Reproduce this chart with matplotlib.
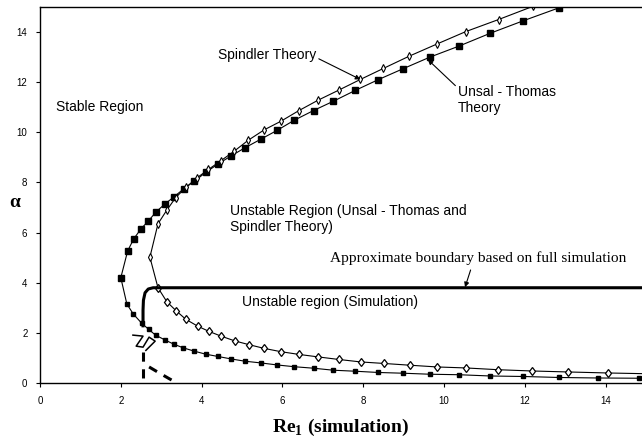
import matplotlib
matplotlib.use('Agg')
from matplotlib import pyplot as plt

# Unsal - Thomas neutral curve (upper and lower branch share Re values)
ut_re_up = [2.0, 2.17, 2.32, 2.5, 2.68, 2.87, 3.09, 3.32, 3.56, 3.82, 4.1, 4.4, 4.73, 5.08,
            5.47, 5.87, 6.29, 6.77, 7.26, 7.8, 8.37, 8.99, 9.65, 10.37, 11.14, 11.96, 12.85]
ut_a_up = [4.2, 5.27, 5.75, 6.15, 6.46, 6.82, 7.14, 7.43, 7.75, 8.05, 8.4, 8.73, 9.06, 9.39,
           9.73, 10.08, 10.48, 10.87, 11.24, 11.67, 12.1, 12.54, 13.0, 13.44, 13.95, 14.45, 14.97]
ut_re_lo = [2.15, 2.31, 2.52, 2.69, 2.86, 3.09, 3.31, 3.55, 3.82, 4.1, 4.4, 4.73, 5.07, 5.47,
            5.87, 6.29, 6.77, 7.26, 7.8, 8.37, 8.99, 9.65, 10.37, 11.14, 11.96, 12.85, 13.8, 14.83]
ut_a_lo = [3.15, 2.75, 2.38, 2.14, 1.91, 1.72, 1.55, 1.4, 1.27, 1.15, 1.06, 0.96, 0.87, 0.8,
           0.72, 0.65, 0.59, 0.51, 0.47, 0.42, 0.39, 0.35, 0.33, 0.28, 0.26, 0.22, 0.2, 0.19]

# Spindler neutral curve
sp_re_up = [2.72, 2.92, 3.14, 3.36, 3.61, 3.88, 4.17, 4.47, 4.8, 5.15, 5.55, 5.96, 6.4, 6.88,
            7.39, 7.93, 8.5, 9.14, 9.82, 10.54, 11.35, 12.19]
sp_a_up = [5.02, 6.35, 6.9, 7.4, 7.8, 8.18, 8.52, 8.86, 9.24, 9.68, 10.1, 10.44, 10.86, 11.28,
           11.68, 12.11, 12.55, 13.04, 13.52, 14.02, 14.5, 15.02]
sp_re_lo = [2.92, 3.14, 3.37, 3.61, 3.9, 4.18, 4.48, 4.82, 5.17, 5.55, 5.96, 6.41, 6.89, 7.39,
            7.94, 8.51, 9.15, 9.83, 10.55, 11.34, 12.17, 13.08, 14.05, 15.0]
sp_a_lo = [3.8, 3.24, 2.88, 2.54, 2.27, 2.06, 1.87, 1.68, 1.53, 1.38, 1.25, 1.14, 1.04, 0.94,
           0.84, 0.78, 0.71, 0.64, 0.6, 0.53, 0.48, 0.44, 0.4, 0.37]

# boundary from the full simulation
sim_re = [2.55, 2.55, 2.56, 2.6, 2.68, 2.8, 15.0]
sim_a = [2.22, 2.9, 3.3, 3.6, 3.75, 3.8, 3.8]

# oscillating part below it
zig_re = [2.30, 2.55, 2.38, 2.55, 2.70, 2.85, 2.62]
zig_a = [1.91, 1.87, 1.47, 1.43, 1.83, 1.67, 1.30]

# dashed continuation
dash_re = [2.55, 2.55]
dash_a = [1.22, 0.0]
dcurve_re = [2.7, 2.9, 3.05, 3.2, 3.36]
dcurve_a = [0.64, 0.45, 0.31, 0.17, 0.03]

sans = 'Liberation Sans'
serif = 'Liberation Serif'
plt.rcParams['mathtext.fontset'] = 'custom'
plt.rcParams['mathtext.rm'] = serif
plt.rcParams['mathtext.bf'] = serif + ':bold'

fig = plt.figure(figsize=(6.42, 4.38), dpi=100)
ax = fig.add_axes([40 / 642, 55 / 438, 602 / 642, 376 / 438])

# Unsal - Thomas: one line through the nose, bigger squares on the upper branch
ax.plot(ut_re_lo[::-1] + ut_re_up, ut_a_lo[::-1] + ut_a_up, color='black', lw=0.8)
ax.plot(ut_re_up, ut_a_up, 's', color='black', ms=4.2)
ax.plot(ut_re_lo, ut_a_lo, 's', color='black', ms=2.6)

ax.plot(sp_re_lo[::-1] + sp_re_up, sp_a_lo[::-1] + sp_a_up, color='black', lw=0.8)
ax.plot(sp_re_up, sp_a_up, 'd', mfc='white', mec='black', mew=0.8, ms=3.6)
ax.plot(sp_re_lo[:-1], sp_a_lo[:-1], 'd', mfc='white', mec='black', mew=0.9, ms=4.4)

ax.plot(sim_re, sim_a, color='black', lw=2.2, solid_capstyle='butt')
ax.plot(zig_re, zig_a, color='black', lw=1.1)
ax.plot(dash_re, dash_a, color='black', lw=2.2, ls=(0, (3, 2.5)))
ax.plot(dcurve_re, dcurve_a, color='black', lw=2.2, ls=(0, (3, 2.5)))

ax.set_xlim(0, 14.9)
ax.set_ylim(0, 15)
ax.set_xticks(range(0, 15, 2))
ax.set_yticks(range(0, 15, 2))
ax.tick_params(labelsize=7, length=3, width=0.8, pad=6)
for lab in ax.get_xticklabels() + ax.get_yticklabels():
    lab.set_fontfamily(sans)
ax.spines['right'].set_visible(False)
for s in ['left', 'bottom', 'top']:
    ax.spines[s].set_linewidth(1.0)

ax.set_xlabel('Re$_\\mathbf{1}$ (simulation)', fontfamily=serif, fontweight='bold',
              fontsize=14, labelpad=8)
ax.set_ylabel('α', fontfamily=serif, fontweight='bold', fontsize=14, rotation=0,
              va='center', ha='center')
ax.yaxis.set_label_coords(-0.042, 0.48)

ax.text(0.4, 11.0, 'Stable Region', fontfamily=sans, fontsize=10, va='center')
ax.text(4.7, 6.55, 'Unstable Region (Unsal - Thomas and\nSpindler Theory)', fontfamily=sans,
        fontsize=10, va='center', linespacing=1.2)
ax.text(5.0, 3.25, 'Unstable region (Simulation)', fontfamily=sans, fontsize=10, va='center')

ax.annotate('Spindler Theory', xy=(7.93, 12.11), xytext=(4.4, 13.1), fontfamily=sans,
            fontsize=10, va='center',
            arrowprops=dict(arrowstyle='-|>', color='black', lw=0.8, mutation_scale=7,
                            shrinkA=0, shrinkB=0, relpos=(1.0, 0.3)))
ax.annotate('Unsal - Thomas\nTheory', xy=(9.6, 12.9), xytext=(10.35, 11.3), fontfamily=sans,
            fontsize=10, va='center', linespacing=1.2,
            arrowprops=dict(arrowstyle='-|>', color='black', lw=0.8, mutation_scale=7,
                            shrinkA=0, shrinkB=0, relpos=(0.0, 0.88)))
ax.annotate('Approximate boundary based on full simulation', xy=(10.52, 3.82), xytext=(7.18, 5.0),
            fontfamily=serif, fontsize=11.1, va='center',
            arrowprops=dict(arrowstyle='-|>', color='black', lw=0.8, mutation_scale=7,
                            shrinkA=2, shrinkB=0, relpos=(0.48, 0.0)))

fig.savefig('out.png', dpi=100)
